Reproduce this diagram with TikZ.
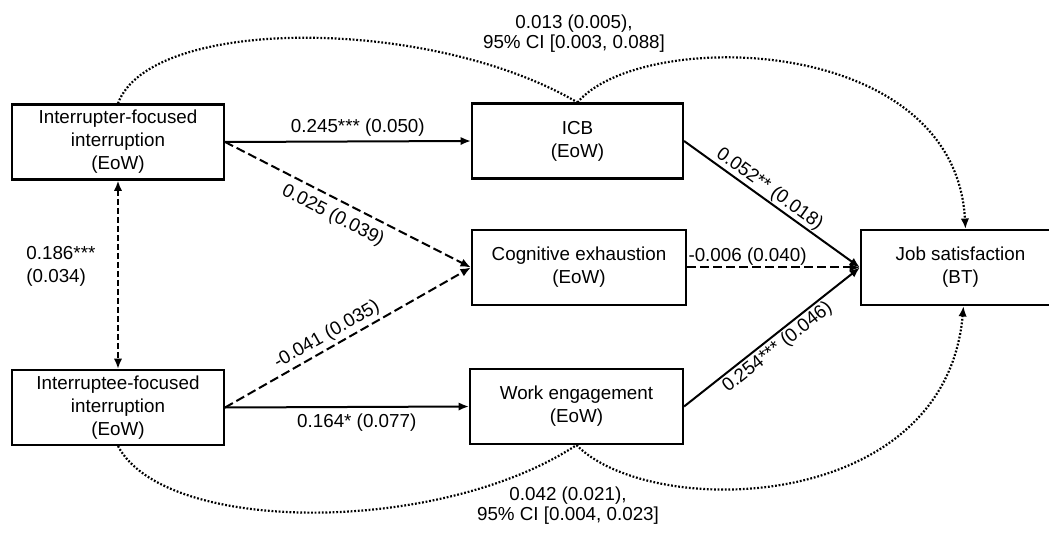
\documentclass[tikz,border=0pt]{standalone}
\usepackage{fontspec}
\setmainfont{Liberation Sans}
\usetikzlibrary{arrows.meta}

\begin{document}
\begin{tikzpicture}[x=0.5pt, y=-0.5pt, >={Latex[length=5.2pt,width=4.2pt]},
  box/.style={draw, line width=1.05pt, align=center, inner sep=0pt, minimum height=37.5pt,
    font=\fontsize{9.4}{11.5}\selectfont},
  lbl/.style={font=\fontsize{9.4}{10}\selectfont, inner sep=2pt},
  solidarr/.style={->, line width=1pt},
  dasharr/.style={->, line width=1pt, dash pattern=on 4.5pt off 2pt},
  curvedot/.style={line width=1.1pt, dash pattern=on 0.9pt off 0.9pt}]
  \useasboundingbox (0,0) rectangle (1049,534);

  \node[box, minimum width=106pt] (ifo) at (118,142) {Interrupter-focused\\interruption\\(EoW)};
  \node[box, minimum width=106pt] (efo) at (118,407.5) {Interruptee-focused\\interruption\\(EoW)};
  \node[box, minimum width=105.5pt] (icb) at (577.5,141) {ICB\\(EoW)};
  \node[box, minimum width=107pt] (cog) at (579,267.5) {Cognitive exhaustion\\(EoW)};
  \node[box, minimum width=106.5pt] (eng) at (576.5,406.5) {Work engagement\\(EoW)};
  \node[box, minimum width=99.5pt] (jsat) at (960.5,267.5) {Job satisfaction\\(BT)};

  \draw[solidarr] (ifo.east) -- node[lbl, pos=0.54, above] {0.245*** (0.050)} (icb.west);
  \draw[dasharr] (ifo.east) -- node[lbl, pos=0.47, sloped, below, inner sep=3.5pt] {0.025 (0.039)} (cog.west);
  \draw[dasharr] (efo.east) -- node[lbl, pos=0.44, sloped, above, inner sep=1.5pt] {-0.041 (0.035)} (cog.west);
  \draw[solidarr] (efo.east) -- node[lbl, pos=0.54, below, inner sep=3pt] {0.164* (0.077)} (eng.west);
  \draw[<->, line width=1pt, dash pattern=on 3pt off 1.5pt] (ifo.south) -- (efo.north);
  \node[lbl, anchor=west, align=left, font=\fontsize{9.4}{11.5}\selectfont] (cor) at (22,266) {0.186***\\(0.034)};

  \draw[solidarr] (icb.east) -- node[lbl, pos=0.45, sloped, above, inner sep=0.5pt] {0.052** (0.018)} (jsat.west);
  \draw[dasharr] (cog.east) -- node[lbl, pos=0.35, above, inner sep=0.5pt] {-0.006 (0.040)} (jsat.west);
  \draw[solidarr] (eng.east) -- node[lbl, pos=0.49, sloped, below, inner sep=1pt] {0.254*** (0.046)} (jsat.west);

  \draw[curvedot] (ifo.north) .. controls (150,16) and (430,16) .. (icb.north);
  \draw[curvedot, ->] (icb.north) .. controls (640,28) and (955,32) .. ([xshift=2.5pt]jsat.north);
  \node[lbl, align=center] (ind1) at (574,34) {0.013 (0.005),\\95\% CI [0.003, 0.088]};

  \draw[curvedot] (efo.south) .. controls (165,535) and (440,535) .. (eng.south);
  \draw[curvedot, ->] (eng.south) .. controls (650,520) and (945,515) .. ([xshift=1.5pt]jsat.south);
  \node[lbl, align=center] (ind2) at (568,506) {0.042 (0.021),\\95\% CI [0.004, 0.023]};
\end{tikzpicture}
\end{document}
